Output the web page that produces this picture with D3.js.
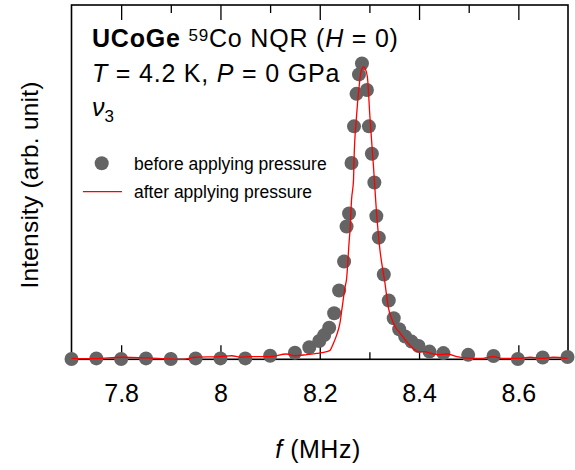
<!DOCTYPE html>
<html><head><meta charset="utf-8">
<script src="https://cdn.jsdelivr.net/npm/d3@7"></script>
<style>
body{margin:0;background:#fff;}
text{font-family:"Liberation Sans",Arial,Helvetica,sans-serif;}
</style></head>
<body><svg id="c" width="575" height="470"></svg>
<script>
// "before applying pressure" points: frequency (MHz) and normalized intensity
const beforeF = [7.70,7.75,7.80,7.85,7.90,7.95,8.00,8.05,8.10,8.150,8.179,8.199,8.209,8.219,8.229,8.239,8.249,8.254,8.259,8.264,8.269,8.274,8.279,8.285,8.295,8.299,8.305,8.310,8.314,8.319,8.329,8.339,8.349,8.360,8.372,8.385,8.399,8.421,8.449,8.499,8.550,8.599,8.649,8.699];
const beforeI = [0.001,0.003,0.001,0.003,0.001,0.003,0.003,0.003,0.012,0.022,0.041,0.062,0.082,0.107,0.156,0.233,0.331,0.450,0.494,0.665,0.789,0.899,0.965,1.002,0.912,0.789,0.696,0.599,0.485,0.412,0.287,0.199,0.139,0.102,0.077,0.060,0.045,0.026,0.021,0.015,0.011,0.001,0.006,0.008];
// "after applying pressure" curve
const afterF = [7.700,7.749,7.800,7.850,7.900,7.925,7.949,8.000,8.023,8.039,8.060,8.099,8.133,8.150,8.174,8.194,8.214,8.221,8.227,8.234,8.241,8.245,8.251,8.254,8.259,8.261,8.264,8.268,8.269,8.274,8.280,8.283,8.288,8.292,8.296,8.301,8.308,8.315,8.321,8.331,8.338,8.346,8.352,8.362,8.375,8.388,8.399,8.412,8.422,8.439,8.456,8.476,8.497,8.523,8.550,8.570,8.599,8.624,8.648,8.670,8.699];
const afterI = [0.003,0.002,0.007,0.005,0.001,0.000,0.007,0.009,0.012,0.007,0.009,0.009,0.018,0.012,0.016,0.020,0.026,0.031,0.052,0.082,0.126,0.174,0.245,0.272,0.394,0.438,0.540,0.607,0.675,0.822,0.935,0.973,0.990,0.983,0.956,0.822,0.658,0.483,0.374,0.262,0.177,0.133,0.110,0.088,0.060,0.037,0.025,0.026,0.021,0.016,0.018,0.009,0.004,0.003,0.009,0.003,0.003,0.007,0.003,0.007,0.003];
const majorTicks = [7.8,8.0,8.2,8.4,8.6];
const minorTicks = [7.9,8.1,8.3,8.5];
const tickLabels = ["7.8","8","8.2","8.4","8.6"];
const legendLabels = ["before applying pressure","after applying pressure"];

const svg = d3.select("#c");
const L=71.5, R=568, T=5, B=359.3;
const x = d3.scaleLinear().domain([7.7,8.7]).range([L,R]);
const y = d3.scaleLinear().domain([0,1.2]).range([B,T]);

// axes
const fs=25;
const gb = svg.append("g").attr("transform",`translate(0,${B})`)
  .call(d3.axisBottom(x).tickValues(majorTicks).tickSize(-14).tickPadding(25)
    .tickFormat((d,i)=>tickLabels[i]));
gb.select(".domain").remove();
gb.selectAll("text").attr("font-size",fs).attr("fill","#000").style("font-family","Liberation Sans, Arial, sans-serif");
const gbm = svg.append("g").attr("transform",`translate(0,${B})`)
  .call(d3.axisBottom(x).tickValues(minorTicks).tickSize(-7).tickFormat(""));
gbm.select(".domain").remove();
const gt = svg.append("g").attr("transform",`translate(0,${T})`)
  .call(d3.axisTop(x).tickValues(majorTicks).tickSize(-15).tickFormat(""));
gt.select(".domain").remove();
const gtm = svg.append("g").attr("transform",`translate(0,${T})`)
  .call(d3.axisTop(x).tickValues(minorTicks).tickSize(-8).tickFormat(""));
gtm.select(".domain").remove();
svg.selectAll(".tick line").attr("stroke","#000").attr("stroke-width",1.3);

svg.append("rect").attr("x",L).attr("y",T).attr("width",R-L).attr("height",B-T)
  .attr("fill","none").attr("stroke","#000").attr("stroke-width",1.6);

// data
const pts = beforeF.map((f,i)=>({f,v:beforeI[i]}));
svg.append("g").selectAll("circle").data(pts).join("circle")
  .attr("cx",d=>x(d.f)).attr("cy",d=>y(d.v)).attr("r",7).attr("fill","#646464");
const line = d3.line().x(d=>x(d.f)).y(d=>y(d.v)).curve(d3.curveMonotoneX);
svg.append("path").datum(afterF.map((f,i)=>({f,v:afterI[i]})))
  .attr("d",line).attr("fill","none").attr("stroke","#ff0000").attr("stroke-width",1.3);

// labels
svg.append("text").attr("x",318).attr("y",458).attr("text-anchor","middle").attr("font-size",25)
  .attr("letter-spacing",0.5)
  .html('<tspan font-style="italic">f</tspan> (MHz)');
svg.append("text").attr("transform","translate(38,185) rotate(-90)").attr("text-anchor","middle")
  .attr("font-size",24.5).attr("letter-spacing",0.2).text("Intensity (arb. unit)");

const t1 = svg.append("text").attr("x",92).attr("y",47).attr("font-size",25).attr("letter-spacing",0.8);
t1.append("tspan").attr("font-weight","bold").text("UCoGe");
t1.append("tspan").text(" ");
t1.append("tspan").attr("font-size",17).attr("dy",-6).text("59");
t1.append("tspan").attr("dy",6).text("Co NQR (");
t1.append("tspan").attr("font-style","italic").text("H");
t1.append("tspan").text(" = 0)");

const t2 = svg.append("text").attr("x",92).attr("y",82).attr("font-size",25).attr("letter-spacing",0.8);
t2.append("tspan").attr("font-style","italic").text("T");
t2.append("tspan").text(" = 4.2 K, ");
t2.append("tspan").attr("font-style","italic").text("P");
t2.append("tspan").text(" = 0 GPa");

const t3 = svg.append("text").attr("x",92).attr("y",116).attr("font-size",25);
t3.append("tspan").attr("font-style","italic").text("ν");
t3.append("tspan").attr("font-size",17).attr("dy",6).text("3");

// legend
svg.append("circle").attr("cx",101.7).attr("cy",163.3).attr("r",7).attr("fill","#646464");
svg.append("text").attr("x",134).attr("y",169.5).attr("font-size",17.5).text(legendLabels[0]);
svg.append("line").attr("x1",83).attr("x2",122).attr("y1",191.7).attr("y2",191.7)
  .attr("stroke","#ff0000").attr("stroke-width",1.3);
svg.append("text").attr("x",134).attr("y",198).attr("font-size",17.5).text(legendLabels[1]);
</script></body></html>
